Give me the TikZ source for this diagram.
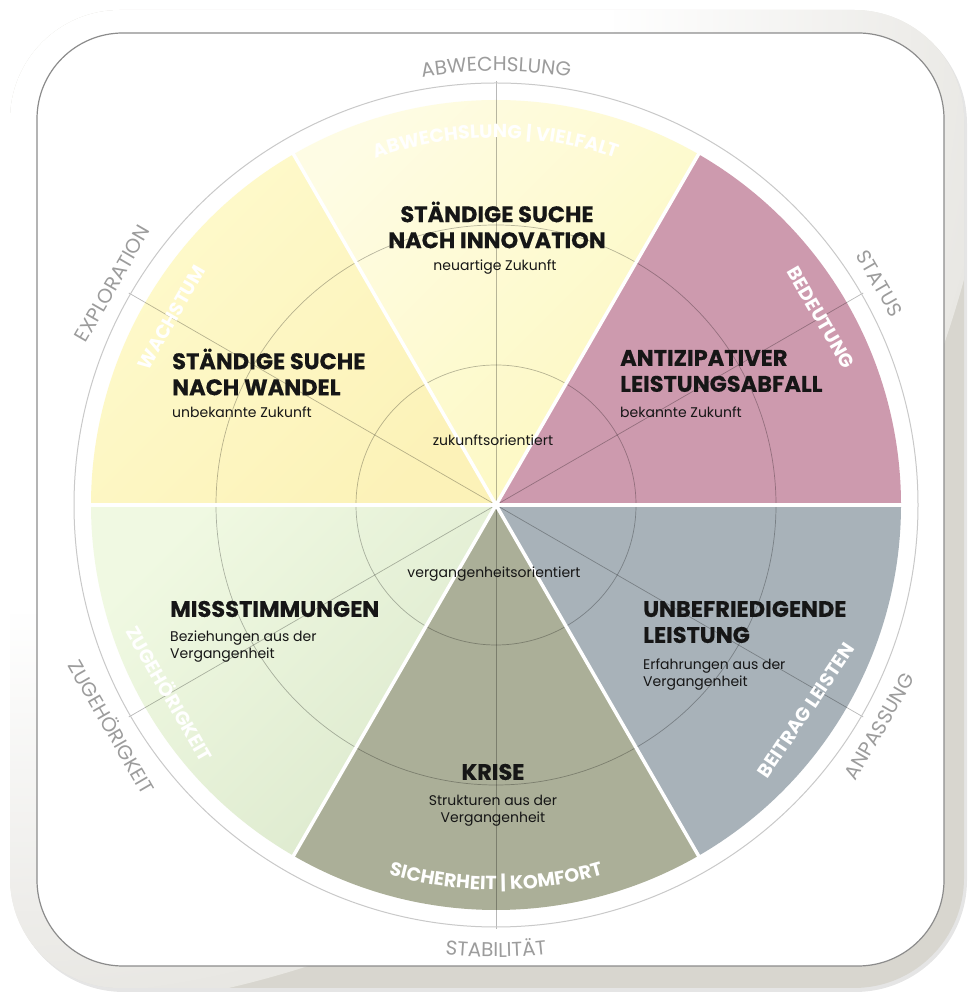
\documentclass[tikz,border=0pt]{standalone}
\usepackage{fontspec}
\setmainfont{Poppins}
\usetikzlibrary{decorations.text,fadings}
\definecolor{frameclr}{HTML}{D8D6CF}
\definecolor{pinkc}{HTML}{CD9AAE}
\definecolor{topyelA}{HTML}{FEFCE4}
\definecolor{topyelB}{HTML}{FDF8C0}
\definecolor{leftyelA}{HTML}{FEFACC}
\definecolor{leftyelB}{HTML}{FCF2B8}
\definecolor{greenA}{HTML}{F0F9E2}
\definecolor{greenB}{HTML}{DCE9CD}
\definecolor{olivec}{HTML}{ABAF98}
\definecolor{bluec}{HTML}{A8B2B9}
\definecolor{ringc}{HTML}{C9C9C9}
\definecolor{outtxt}{HTML}{9C9C9C}
\definecolor{headc}{HTML}{161616}
\pgfdeclareradialshading{ffshade}{\pgfpointorigin}{color(0bp)=(white); color(15bp)=(white); color(32bp)=(black); color(50bp)=(black)}
\pgfdeclarefading{framefade}{\pgfuseshading{ffshade}}
\newcommand\whitelab{\bfseries\fontsize{19}{19}\selectfont}
\newcommand\graylab{\fontsize{20}{20}\selectfont}
\tikzset{
  head/.style={font=\bfseries\fontsize{22.5}{26}\selectfont\addfontfeature{FakeBold=0.4}, text=headc, inner sep=0pt},
  sub/.style={font=\fontsize{14}{17}\selectfont, text=headc, inner sep=0pt},
  guide/.style={draw=black, draw opacity=0.28, line width=0.7pt},
  sepline/.style={draw=white, line width=3.5pt},
  wnode/.style={font=\whitelab, text=white, inner sep=0pt},
  gnode/.style={font=\graylab, text=outtxt, inner sep=0pt},
  wlab/.style={decorate, decoration={text along path, text format delimiters={[}{]}, text align=center, text color=white, text={[\whitelab]#1}}},
  glab/.style={decorate, decoration={text along path, text format delimiters={[}{]}, text align=center, text color=outtxt, text={[\graylab]#1}}}
}
\begin{document}
\begin{tikzpicture}[x=1pt,y=1pt]
\useasboundingbox (0,0) rectangle (972,1001);
% frame
\fill[black, opacity=0.10, rounded corners=112pt] (12,9) rectangle (967,989);
\fill[frameclr, rounded corners=110pt] (10,13) rectangle (964,991);
\begin{scope}
  \clip[rounded corners=110pt] (10,13) rectangle (964,991);
  \fill[white, path fading=framefade] (10,991) circle (1000);
\end{scope}
\fill[white, draw=black!45, line width=1.2pt, rounded corners=86pt] (37,35) rectangle (944,968);
% wheel
\begin{scope}[shift={(496,496)}]
  \fill[pinkc]   (0,0) -- (0:405)   arc[start angle=0,   end angle=60,  radius=405] -- cycle;
  \shade[top color=topyelA, bottom color=topyelB, shading angle=45]  (0,0) -- (60:405)  arc[start angle=60,  end angle=120, radius=405] -- cycle;
  \shade[top color=leftyelA, bottom color=leftyelB, shading angle=45] (0,0) -- (120:405) arc[start angle=120, end angle=180, radius=405] -- cycle;
  \shade[top color=greenA, bottom color=greenB, shading angle=45]  (0,0) -- (180:405) arc[start angle=180, end angle=240, radius=405] -- cycle;
  \fill[olivec]  (0,0) -- (240:405) arc[start angle=240, end angle=300, radius=405] -- cycle;
  \fill[bluec]   (0,0) -- (300:405) arc[start angle=300, end angle=360, radius=405] -- cycle;
  \draw[guide] (0,0) circle (140);
  \draw[guide] (0,0) circle (280);
  \foreach \a in {30,90,150,210,270,330} \draw[guide] (0,0) -- (\a:424);
  \foreach \a in {0,60,120,180,240,300} \draw[sepline] (0,0) -- (\a:406);
  \draw[ringc, line width=1pt] (0,0) circle (422);
  % white labels in the wheel
  \path[wlab={ABWECHSLUNG | VIELFALT}] (130:367) arc[start angle=130, end angle=50, radius=367];
  \path[wlab={SICHERHEIT | KOMFORT}] (230:385) arc[start angle=230, end angle=310, radius=385];
  \node[wnode, rotate=60]  (wachs) at (150:375) {WACHSTUM};
  \node[wnode, rotate=-60] (bedeu) at (30:375)  {BEDEUTUNG};
  \node[wnode, rotate=-60] (zugw)  at (210:376) {ZUGEHÖRIGKEIT};
  \node[wnode, rotate=56]  (beitr) at (326.5:372) {BEITRAG LEISTEN};
  % outer grey labels
  \path[glab={ABWECHSLUNG}] (120:434) arc[start angle=120, end angle=60, radius=434];
  \path[glab={STABILITÄT}] (240:452) arc[start angle=240, end angle=300, radius=452];
  \node[gnode, rotate=-60] (status) at (30:443)  {STATUS};
  \node[gnode, rotate=60]  (explo)  at (150:443) {EXPLORATION};
  \node[gnode, rotate=-60] (zugg)   at (210:443) {ZUGEHÖRIGKEIT};
  \node[gnode, rotate=60]  (anpas)  at (330:443) {ANPASSUNG};
\end{scope}
% texts
\node[head, align=center] (hinno) at (497,776) {STÄNDIGE SUCHE\\NACH INNOVATION};
\node[sub] (sinno) at (495,734) {neuartige Zukunft};
\node[head, align=left, anchor=west] (hwandel) at (172,629) {STÄNDIGE SUCHE\\NACH WANDEL};
\node[sub, anchor=west] (swandel) at (172,589) {unbekannte Zukunft};
\node[head, align=left, anchor=west] (hanti) at (620,630) {ANTIZIPATIVER\\LEISTUNGSABFALL};
\node[sub, anchor=west] (santi) at (620,589) {bekannte Zukunft};
\node[sub] (zuk) at (493,561) {zukunftsorientiert};
\node[sub] (verg) at (494,427) {vergangenheitsorientiert};
\node[head, anchor=west] (hmiss) at (170,392) {MISSSTIMMUNGEN};
\node[sub, align=left, anchor=west] (smiss) at (170,354) {Beziehungen aus der\\Vergangenheit};
\node[head, align=left, anchor=west] (hunbef) at (643,379) {UNBEFRIEDIGENDE\\LEISTUNG};
\node[sub, align=left, anchor=west] (sunbef) at (643,326) {Erfahrungen aus der\\Vergangenheit};
\node[head] (hkrise) at (493,229) {KRISE};
\node[sub, align=center] (skrise) at (493,190) {Strukturen aus der\\Vergangenheit};
\end{tikzpicture}
\end{document}
